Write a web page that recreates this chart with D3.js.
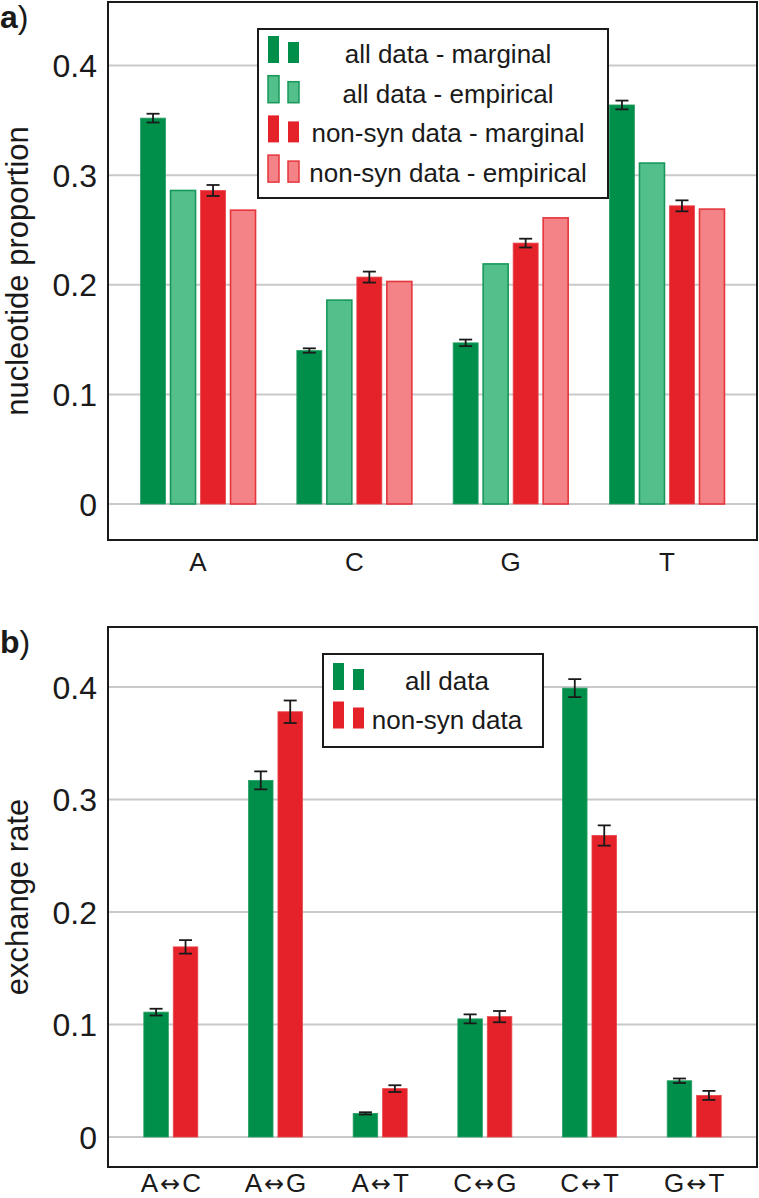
<html>
<head>
<script src="https://d3js.org/d3.v7.min.js"></script>
<style>
  body { margin: 0; background: #fff; }
  text { font-family: "Liberation Sans", Arial, Helvetica, sans-serif; fill: #1a1a1a; }
</style>
</head>
<body>
<svg id="chart" width="759" height="1198"></svg>
<script>
// panel a: nucleotide proportions
const nucCats = ["A", "C", "G", "T"];
const nucSeries = ["all data - marginal", "all data - empirical", "non-syn data - marginal", "non-syn data - empirical"];
const allMarginal = [0.352, 0.140, 0.147, 0.364];
const allMarginalErr = [0.004, 0.002, 0.003, 0.004];
const allEmpirical = [0.286, 0.186, 0.219, 0.311];
const nonsynMarginal = [0.286, 0.207, 0.238, 0.272];
const nonsynMarginalErr = [0.005, 0.005, 0.004, 0.005];
const nonsynEmpirical = [0.268, 0.203, 0.261, 0.269];

// panel b: exchange rates
const rateCats = ["A\u2194C", "A\u2194G", "A\u2194T", "C\u2194G", "C\u2194T", "G\u2194T"];
const rateSeries = ["all data", "non-syn data"];
const allRate = [0.111, 0.317, 0.021, 0.105, 0.399, 0.050];
const allRateErr = [0.003, 0.008, 0.001, 0.004, 0.008, 0.002];
const nonsynRate = [0.169, 0.378, 0.043, 0.107, 0.268, 0.037];
const nonsynRateErr = [0.006, 0.010, 0.003, 0.005, 0.009, 0.004];

const yTicks = [0, 0.1, 0.2, 0.3, 0.4];
const yTickLabels = ["0", "0.1", "0.2", "0.3", "0.4"];

const styles = {
  dark:  { fill: "#008f4a", stroke: "#2a9f65", sw: 0.8 },
  light: { fill: "#53bf8b", stroke: "#17985a", sw: 1.6 },
  red:   { fill: "#e52229", stroke: "#e8464b", sw: 0.8 },
  pink:  { fill: "#f48387", stroke: "#e5353b", sw: 1.6 }
};

const svg = d3.select("#chart");

function panel(o) {
  const g = svg.append("g");
  const x = d3.scaleBand().domain(o.cats).range([o.left, o.right]).paddingInner(0).paddingOuter(o.outer);
  const xi = d3.scaleBand().domain(o.series.map((s, i) => i)).range([0, o.groupW]).paddingInner(0.167);
  const y = d3.scaleLinear().domain([0, 0.4]).range([o.zeroY, o.topY]);

  //gridlines
  g.selectAll(".grid").data(yTicks).enter().append("line")
    .attr("x1", o.left).attr("x2", o.right)
    .attr("y1", d => y(d)).attr("y2", d => y(d))
    .attr("stroke", "#c9c9c9").attr("stroke-width", 2);

  //tick labels
  g.selectAll(".tick").data(yTicks).enter().append("text")
    .attr("x", 97).attr("y", d => y(d)).attr("dy", "0.36em")
    .attr("text-anchor", "end").style("font-size", "32px")
    .text((d, i) => yTickLabels[i]);

  //bars
  o.values.forEach(function(vals, si) {
    const st = styles[o.colors[si]];
    g.selectAll(".bar" + si).data(vals).enter().append("rect")
      .attr("x", (d, i) => x(o.cats[i]) + x.bandwidth() / 2 - o.groupW / 2 + xi(si))
      .attr("width", xi.bandwidth())
      .attr("y", d => y(d))
      .attr("height", d => y(0) - y(d))
      .attr("fill", st.fill).attr("stroke", st.stroke).attr("stroke-width", st.sw);

    const errs = o.errors[si];
    if (errs) {
      vals.forEach(function(v, i) {
        const cx = x(o.cats[i]) + x.bandwidth() / 2 - o.groupW / 2 + xi(si) + xi.bandwidth() / 2;
        const y1 = y(v + errs[i]), y2 = y(v - errs[i]);
        const eg = g.append("g").attr("stroke", "#1a1a1a").attr("stroke-width", 1.8);
        eg.append("line").attr("x1", cx).attr("x2", cx).attr("y1", y1).attr("y2", y2);
        eg.append("line").attr("x1", cx - 6.5).attr("x2", cx + 6.5).attr("y1", y1).attr("y2", y1);
        eg.append("line").attr("x1", cx - 6.5).attr("x2", cx + 6.5).attr("y1", y2).attr("y2", y2);
      });
    }
  });

  //frame
  g.append("rect")
    .attr("x", o.left).attr("y", o.frameTop)
    .attr("width", o.right - o.left).attr("height", o.frameBottom - o.frameTop)
    .attr("fill", "none").attr("stroke", "#1a1a1a").attr("stroke-width", 2);

  //category labels (arrow glyph from DejaVu, a bit of room either side)
  const cl = g.selectAll(".cat").data(o.cats).enter().append("text")
    .attr("x", d => x(d) + x.bandwidth() / 2).attr("y", o.catY)
    .attr("text-anchor", "middle").style("font-size", "26px");
  cl.each(function(d) {
    const t = d3.select(this);
    let afterArrow = false;
    d.split(/(\u2194)/).filter(s => s.length).forEach(function(part) {
      const sp = t.append("tspan").text(part);
      if (part === "\u2194") {
        sp.attr("dx", 2).style("font-family", "'DejaVu Sans'").style("font-size", "24px");
        afterArrow = true;
      } else if (afterArrow) {
        sp.attr("dx", 2);
      }
    });
  });

  //axis title
  g.append("text")
    .attr("transform", "translate(28," + ((o.frameTop + o.frameBottom) / 2) + ") rotate(-90)")
    .attr("text-anchor", "middle").style("font-size", "31px")
    .text(o.title);

  //panel letter
  const pl = g.append("text").attr("x", 0).attr("y", o.letterY).style("font-size", "32px");
  pl.append("tspan").style("font-weight", "bold").text(o.letter);
  pl.append("tspan").text(")");

  //legend
  const L = o.legend;
  const lg = g.append("g");
  lg.append("rect").attr("x", L.x).attr("y", L.y).attr("width", L.w).attr("height", L.h)
    .attr("fill", "#fff").attr("stroke", "#1a1a1a").attr("stroke-width", 2);
  o.series.forEach(function(s, i) {
    const st = styles[o.colors[i]];
    const base = L.firstBase + i * L.rowH;
    const thin = (o.colors[i] === "light" || o.colors[i] === "pink");
    lg.append("rect").attr("x", L.sx).attr("y", base - 27).attr("width", 11).attr("height", 27)
      .attr("fill", st.fill).attr("stroke", thin ? st.stroke : "none").attr("stroke-width", 1.5);
    lg.append("rect").attr("x", L.sx + 20).attr("y", base - 21).attr("width", 11).attr("height", 21)
      .attr("fill", st.fill).attr("stroke", thin ? st.stroke : "none").attr("stroke-width", 1.5);
    lg.append("text").attr("x", L.tx).attr("y", base).attr("text-anchor", "middle")
      .style("font-size", "26px").text(s);
  });
}

panel({
  cats: nucCats, series: nucSeries,
  values: [allMarginal, allEmpirical, nonsynMarginal, nonsynEmpirical],
  errors: [allMarginalErr, null, nonsynMarginalErr, null],
  colors: ["dark", "light", "red", "pink"],
  left: 108, right: 757, outer: 0.076, groupW: 115,
  zeroY: 504, topY: 65.5, frameTop: 2, frameBottom: 540, catY: 571,
  title: "nucleotide proportion", letter: "a", letterY: 28,
  legend: { x: 258, y: 29, w: 350, h: 169, sx: 268, tx: 448, firstBase: 63, rowH: 39.7 }
});

panel({
  cats: rateCats, series: rateSeries,
  values: [allRate, nonsynRate],
  errors: [allRateErr, nonsynRateErr],
  colors: ["dark", "red"],
  left: 108, right: 757, outer: 0.1, groupW: 54,
  zeroY: 1137, topY: 687, frameTop: 627, frameBottom: 1167, catY: 1192,
  title: "exchange rate", letter: "b", letterY: 653,
  legend: { x: 323, y: 654, w: 220, h: 93, sx: 333, tx: 447, firstBase: 690, rowH: 38.5 }
});
</script>
</body>
</html>
